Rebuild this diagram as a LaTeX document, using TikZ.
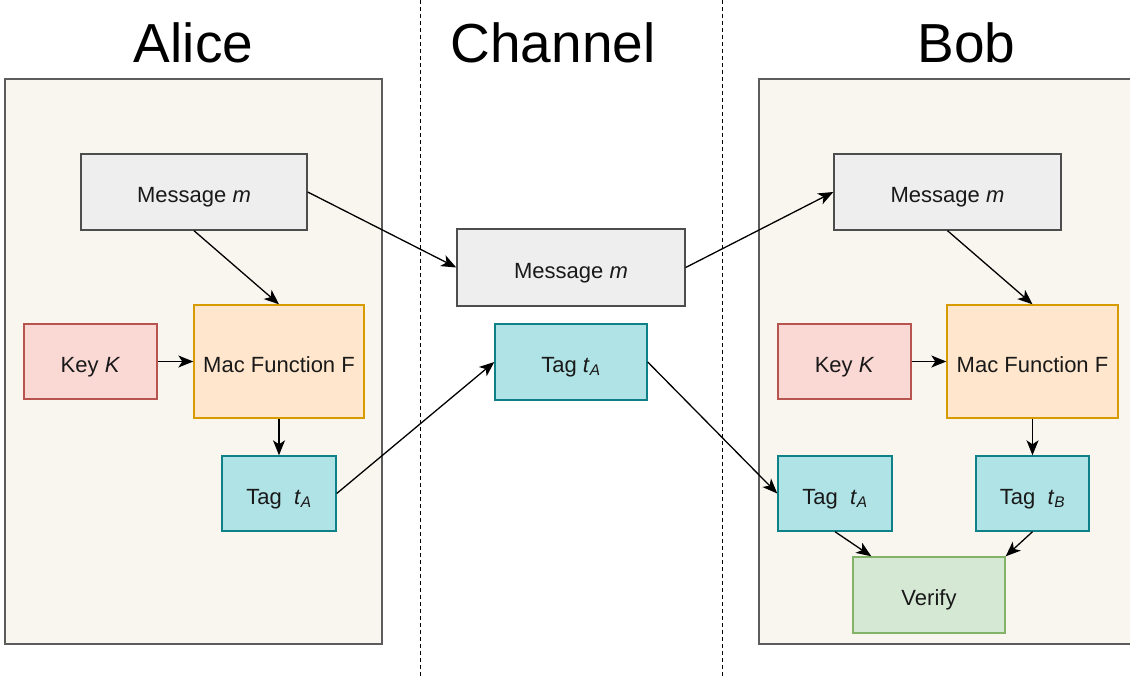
\documentclass[tikz,border=0pt]{standalone}
\usepackage{fontspec}
\setmainfont{Liberation Sans}
\usetikzlibrary{arrows.meta}
\definecolor{panelfill}{HTML}{F8F6EE}
\definecolor{panelline}{HTML}{5C5C5C}
\definecolor{msgfill}{HTML}{EEEEEE}
\definecolor{msgline}{HTML}{4D4D4D}
\definecolor{keyfill}{HTML}{FAD9D5}
\definecolor{keyline}{HTML}{B85450}
\definecolor{macfill}{HTML}{FFE6CC}
\definecolor{macline}{HTML}{D79B00}
\definecolor{tagfill}{HTML}{B0E3E6}
\definecolor{tagline}{HTML}{0E8088}
\definecolor{verfill}{HTML}{D5E8D4}
\definecolor{verline}{HTML}{82B366}
\tikzset{box/.style={draw,line width=1.4pt,inner sep=0pt,text=black!90,
		text height=21pt,text depth=0pt,font=\fontsize{22}{26}\selectfont}}
\tikzset{msgbox/.style={box,fill=msgfill,draw=msgline},
		 keybox/.style={box,fill=keyfill,draw=keyline,minimum width=133pt,minimum height=75pt},
		 macbox/.style={box,fill=macfill,draw=macline,minimum width=170pt,minimum height=113pt},
		 tagbox/.style={box,fill=tagfill,draw=tagline,minimum height=75pt},
		 verbox/.style={box,fill=verfill,draw=verline}}
\tikzset{panel/.style={draw=panelline,fill=panelfill,line width=1.8pt},
		 separator/.style={line width=1pt,dash pattern=on 4pt off 3pt},
		 title/.style={anchor=base,font=\fontsize{55}{60}\selectfont},
		 arrow/.style={-{Stealth[length=15pt,width=12pt,inset=4pt]},line width=1.3pt}}
\newcommand{\tagsym}[1]{\textit{t}\textsubscript{\textit{#1}}}

\begin{document}
\begin{tikzpicture}[x=1pt,y=-1pt]
	\useasboundingbox (0,0) rectangle (1130,679);
	\draw[separator] (420,0) -- (420,679);
	\draw[separator] (722,0) -- (722,679);
	\draw[panel] (5,79) rectangle (382,644);
	\draw[panel] (759,79) rectangle (1145,644);
	\node[title] (alice) at (193.5,63) {Alice};
	\node[title] (channel) at (553,63) {Channel};
	\node[title] (bob) at (966.5,63) {Bob};
	% Alice
	\node[msgbox,minimum width=226pt,minimum height=76pt] (amsg) at (194,192) {Message \textit{m}};
	\node[keybox] (akey) at (90.5,361.5) {Key \textit{K}};
	\node[macbox] (amac) at (279,361.5) {Mac Function F};
	\node[tagbox,minimum width=114pt] (atag) at (279,493.5) {Tag\ \ \tagsym{A}};
	% channel
	\node[msgbox,minimum width=228pt,minimum height=77pt] (cmsg) at (571,267.5) {Message \textit{m}};
	\node[tagbox,minimum width=152pt,minimum height=76pt] (ctag) at (571,362) {Tag \tagsym{A}};
	% Bob
	\node[msgbox,minimum width=227pt,minimum height=76pt] (bmsg) at (947.5,192) {Message \textit{m}};
	\node[keybox] (bkey) at (844.5,361.5) {Key \textit{K}};
	\node[macbox,minimum width=171pt] (bmac) at (1032.5,361.5) {Mac Function F};
	\node[tagbox,minimum width=114pt] (btaga) at (835,493.5) {Tag\ \ \tagsym{A}};
	\node[tagbox,minimum width=113pt] (btagb) at (1032.5,493.5) {Tag\ \ \tagsym{B}};
	\node[verbox,minimum width=152pt,minimum height=76pt] (verify) at (929,595) {Verify};

	\draw[arrow] (amsg.south) -- (amac.north);
	\draw[arrow] (akey) -- (amac);
	\draw[arrow] (amac) -- (atag);
	\draw[arrow] (amsg.east) -- (cmsg.west);
	\draw[arrow] (atag.east) -- (ctag.west);
	\draw[arrow] (cmsg.east) -- (bmsg.west);
	\draw[arrow] (ctag.east) -- (btaga.west);
	\draw[arrow] (bmsg.south) -- (bmac.north);
	\draw[arrow] (bkey) -- (bmac);
	\draw[arrow] (bmac) -- (btagb);
	\draw[arrow] (btaga.south) -- ([xshift=19pt]verify.north west);
	\draw[arrow] (btagb.south) -- (verify.north east);
\end{tikzpicture}
\end{document}
